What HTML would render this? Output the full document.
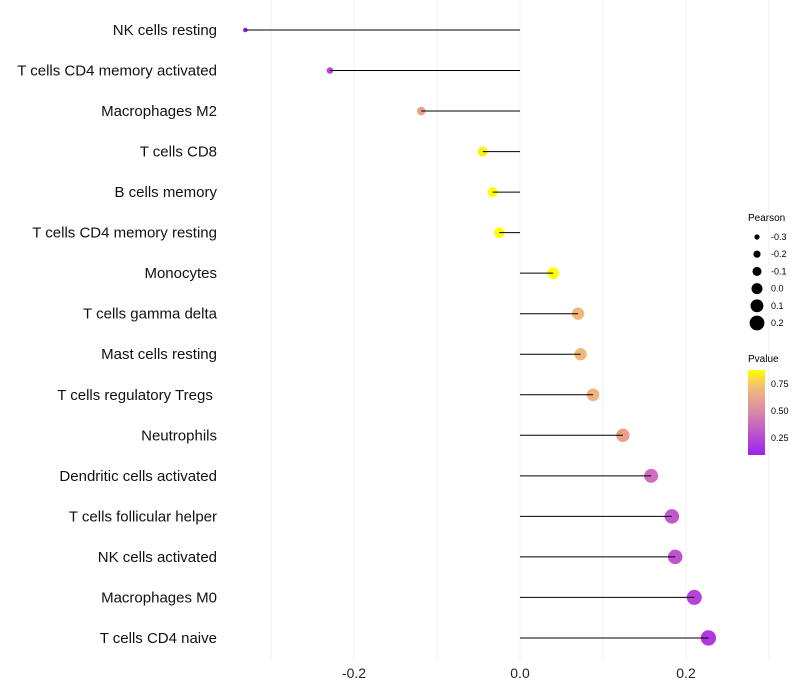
<!DOCTYPE html>
<html><head><meta charset="utf-8"><style>
body{margin:0;background:#fff;font-family:"Liberation Sans",Arial,sans-serif}
svg{display:block}
</style></head><body>
<svg id="chart" width="800" height="700">
<defs><linearGradient id="pg" x1="0" y1="1" x2="0" y2="0">
<stop offset="0" stop-color="#a020f0"/><stop offset="0.5" stop-color="#d888a8"/><stop offset="0.8" stop-color="#f3bd78"/><stop offset="1" stop-color="#ffff00"/>
</linearGradient></defs>
<g id="grid"></g>
<g id="marks"></g>
<g id="labels"></g>
<g id="xticks"></g>
<g id="plegend">
<text x="748" y="221" font-size="10">Pearson</text>
</g>
<g>
<text x="748" y="362" font-size="10">Pvalue</text>
<rect x="748" y="370" width="17" height="85" fill="url(#pg)"/>
<text x="771" y="387" font-size="9">0.75</text>
<text x="771" y="414" font-size="9">0.50</text>
<text x="771" y="441" font-size="9">0.25</text>
</g>
</svg>
<script>
const categories=["NK cells resting","T cells CD4 memory activated","Macrophages M2","T cells CD8","B cells memory","T cells CD4 memory resting","Monocytes","T cells gamma delta","Mast cells resting","T cells regulatory  Tregs\u00a0","Neutrophils","Dendritic cells activated","T cells follicular helper","NK cells activated","Macrophages M0","T cells CD4 naive"];
const pearson=[-0.331,-0.229,-0.119,-0.045,-0.033,-0.025,0.040,0.070,0.073,0.088,0.124,0.158,0.183,0.187,0.210,0.227];
const pvalues=[0.05,0.27,0.62,0.85,0.9,0.92,0.9,0.72,0.72,0.7,0.62,0.45,0.35,0.33,0.25,0.2];
const xTicks=[-0.2,0,0.2];
const xTickLabels=["-0.2","0.0","0.2"];
const legendVals=[-0.3,-0.2,-0.1,0.0,0.1,0.2];
const legendLabels=["-0.3","-0.2","-0.1","0.0","0.1","0.2"];

const NS="http://www.w3.org/2000/svg";
const X=v=>520+v*830;
const Y=i=>30+i*40.53;
const R=v=>Math.max(1.8,2.6+(v+0.3)*9.6);
function lerp(a,b,t){return a.map((c,i)=>Math.round(c+(b[i]-c)*t));}
const stops=[[0.09,[160,32,240]],[0.45,[208,110,190]],[0.62,[232,160,140]],[0.75,[243,190,120]],[0.88,[255,255,0]]];
function col(p){
  if(p<=stops[0][0])return "rgb("+stops[0][1]+")";
  for(let k=1;k<stops.length;k++){if(p<=stops[k][0]){const t=(p-stops[k-1][0])/(stops[k][0]-stops[k-1][0]);return "rgb("+lerp(stops[k-1][1],stops[k][1],t)+")";}}
  return "rgb(255,255,0)";
}
function mk(tag,attrs,parent){const e=document.createElementNS(NS,tag);for(const k in attrs)e.setAttribute(k,attrs[k]);parent.appendChild(e);return e;}
const grid=document.getElementById('grid');
for(let g=-0.3;g<=0.31;g+=0.1){
  const l=mk('line',{x1:X(g),x2:X(g),y1:0,y2:660,stroke:'#f2f2f2','stroke-width':1},grid);
  
  
}
const marks=document.getElementById('marks'),labels=document.getElementById('labels');
categories.forEach((c,i)=>{
  const d=mk('circle',{cx:X(pearson[i]),cy:Y(i),r:R(pearson[i]),fill:col(pvalues[i])},marks);
  
  
  const s=mk('line',{x1:X(0),x2:X(pearson[i]),y1:Y(i),y2:Y(i),stroke:'#000','stroke-width':1},marks);
  
  
  const t=mk('text',{x:217,y:Y(i)+5,'text-anchor':'end','font-size':15,fill:'#111'},labels);
  t.textContent=c;
  
  
});
const xt=document.getElementById('xticks');
xTicks.forEach((v,i)=>{
  const t=mk('text',{x:X(v),y:678,'text-anchor':'middle','font-size':14,fill:'#222'},xt);
  t.textContent=xTickLabels[i];
  
  
});
const pl=document.getElementById('plegend');
legendVals.forEach((v,i)=>{
  const y=237+i*17.2;
  const c=mk('circle',{cx:757,cy:y,r:R(v),fill:'#000'},pl);
  
  
  const t=mk('text',{x:771,y:y+3,'font-size':9},pl);
  t.textContent=legendLabels[i];
  
  
});
</script>
</body></html>
